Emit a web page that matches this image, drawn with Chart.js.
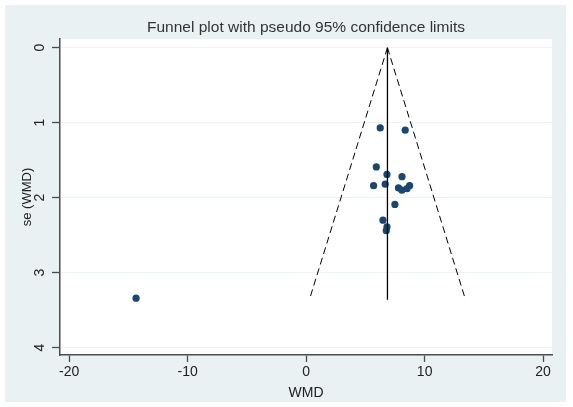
<!DOCTYPE html>
<html>
<head>
<meta charset="utf-8">
<script src="https://cdn.jsdelivr.net/npm/chart.js@4.4.1/dist/chart.umd.min.js"></script>
<style>
  body { margin: 0; background: #ffffff; }
  canvas { display: block; }
</style>
</head>
<body>
<canvas id="myChart" width="573" height="407"></canvas>
<script>
// study estimates: weighted mean difference and its standard error
const wmd = [6.25, 8.36, 5.92, 6.82, 8.09, 5.69, 6.67, 7.79, 8.08, 8.73, 8.51, 7.49, 6.48, 6.82, 6.76, -14.36];
const seWmd = [1.07, 1.10, 1.59, 1.69, 1.72, 1.84, 1.82, 1.87, 1.90, 1.84, 1.88, 2.09, 2.30, 2.39, 2.44, 3.34];

// pooled estimate line and pseudo 95% limits (apex, then bottom end)
const pooledX = [6.86, 6.86];
const pooledY = [0, 3.36];
const lowerX = [6.86, 0.27];
const upperX = [6.86, 13.45];
const limitY = [0, 3.36];

const xTicks = [-20, -10, 0, 10, 20];
const yTicks = [0, 1, 2, 3, 4];

const toPoints = (xs, ys) => xs.map((x, i) => ({ x: x, y: ys[i] }));

// light frame behind the plot, white plot region
const backdrop = {
    id: 'backdrop',
    afterLayout(chart) {
        // center the title over the plot region instead of the whole canvas
        if (chart.titleBlock) {
            chart.titleBlock.left = chart.chartArea.left;
            chart.titleBlock.right = chart.chartArea.right;
        }
    },
    beforeDraw(chart) {
        const { ctx, chartArea } = chart;
        ctx.save();
        ctx.fillStyle = '#ffffff';
        ctx.fillRect(0, 0, chart.width, chart.height);
        ctx.fillStyle = '#e9f1f2';
        ctx.fillRect(5, 5, 561, 397);
        ctx.fillStyle = '#ffffff';
        ctx.fillRect(chartArea.left, chartArea.top, chartArea.right - chartArea.left, chartArea.bottom - chartArea.top);
        ctx.restore();
    }
};

const family = 'Arial, "Liberation Sans", sans-serif';
const font = { family: family, size: 14 };

function localChart() {
    const inf = {
        datasets: [
            {
                type: 'line',
                data: toPoints(lowerX, limitY),
                borderColor: '#000000',
                borderWidth: 1,
                borderDash: [7, 4],
                pointRadius: 0,
            },
            {
                type: 'line',
                data: toPoints(upperX, limitY),
                borderColor: '#000000',
                borderWidth: 1,
                borderDash: [7, 4],
                pointRadius: 0,
            },
            {
                type: 'line',
                data: toPoints(pooledX, pooledY),
                borderColor: '#000000',
                borderWidth: 1.3,
                pointRadius: 0,
            },
            {
                type: 'scatter',
                data: toPoints(wmd, seWmd),
                backgroundColor: '#1a476f',
                borderWidth: 0,
                pointRadius: 3.6,
            },
        ],
    };

    const options = {
        responsive: false,
        animation: false,
        devicePixelRatio: 1,
        layout: { padding: { left: 0, right: 21, top: 0, bottom: 0 } },
        scales: {
            x: {
                type: 'linear',
                min: -20.78,
                max: 20.75,
                afterBuildTicks: (scale) => { scale.ticks = xTicks.map((v) => ({ value: v })); },
                afterFit: (scale) => { scale.height = 52; },
                ticks: { color: '#222222', font: font, padding: 2, maxRotation: 0 },
                grid: {
                    drawOnChartArea: false,
                    tickLength: 7,
                    tickColor: '#4d4d4d',
                    tickWidth: 1.3,
                },
                border: { color: '#4d4d4d', width: 1.5 },
                title: {
                    display: true,
                    text: 'WMD',
                    color: '#222222',
                    font: font,
                    padding: { top: 0, bottom: 5 },
                },
            },
            y: {
                type: 'linear',
                reverse: true,
                min: -0.116,
                max: 4.097,
                afterBuildTicks: (scale) => { scale.ticks = yTicks.map((v) => ({ value: v })); },
                afterFit: (scale) => { scale.width = 60; },
                ticks: {
                    color: '#222222',
                    font: font,
                    minRotation: 90,
                    maxRotation: 90,
                    crossAlign: 'center',
                    padding: 8,
                },
                grid: {
                    color: '#edf2f3',
                    lineWidth: 1,
                    tickLength: 8,
                    tickColor: '#4d4d4d',
                    tickWidth: 1.3,
                },
                border: { color: '#4d4d4d', width: 1.5 },
                title: {
                    display: true,
                    text: 'se (WMD)',
                    color: '#222222',
                    font: { family: family, size: 13 },
                    padding: { top: 20, bottom: 0 },
                },
            },
        },
        plugins: {
            legend: { display: false },
            tooltip: { enabled: false },
            title: {
                display: true,
                text: 'Funnel plot with pseudo 95% confidence limits',
                color: '#333333',
                font: { family: family, size: 15.5, weight: 'normal' },
                padding: { top: 18, bottom: 2.4 },
            },
        },
    };

    const config = {
        type: 'scatter',
        data: inf,
        options,
        plugins: [backdrop],
    };
    const myChart = new Chart(document.getElementById('myChart'), config);
}
localChart();
</script>
</body>
</html>
